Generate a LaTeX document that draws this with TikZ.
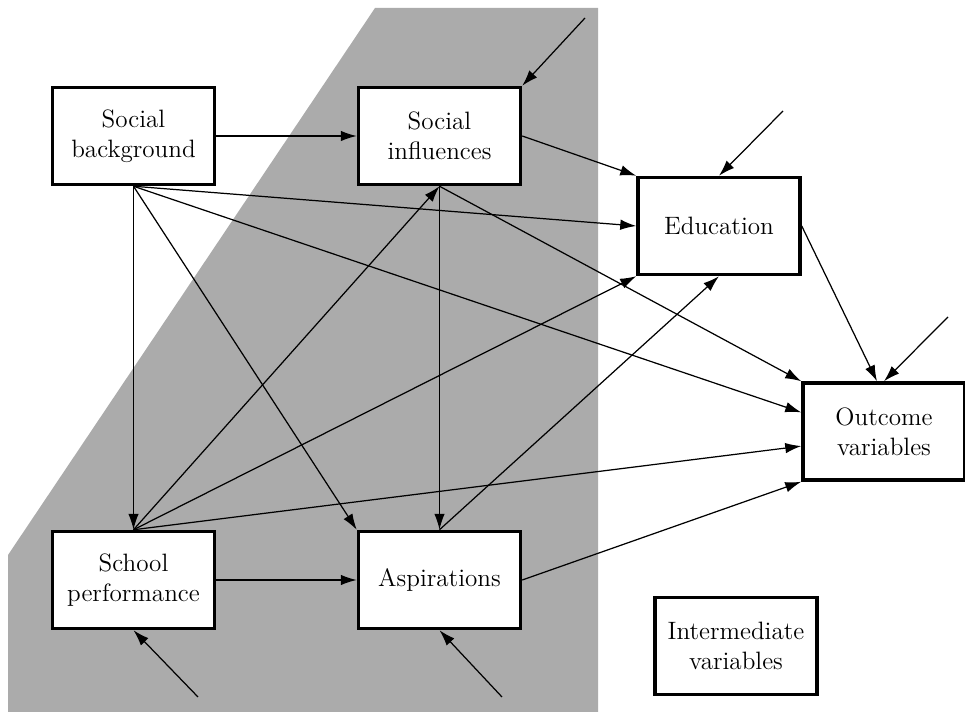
\documentclass[tikz,border=0pt]{standalone}
\usetikzlibrary{arrows.meta,calc}
\begin{document}
\begin{tikzpicture}[x=0.02cm, y=-0.02cm,
		box/.style={draw, line width=2pt, fill=white, minimum width=3.24cm, minimum height=1.94cm, align=center, font=\fontsize{14.3}{17}\selectfont},
		arr/.style={-{Latex[length=3.2mm,width=2.1mm]}, line width=0.7pt}]
	\useasboundingbox (0,0) rectangle (965,712);
	% shaded zone
	\fill[black!33] (375,8) -- (598,8) -- (598,712) -- (8,712) -- (8,555) -- cycle;
	% variables
	\node[box] (SB) at (133.5,136) {Social\\background};
	\node[box] (SI) at (439.5,136) {Social\\influences};
	\node[box] (SP) at (133.5,580) {School\\performance};
	\node[box] (Asp) at (439.5,580) {Aspirations};
	\node[box] (Ed) at (719,226) {Education};
	\node[box] (Out) at (884,431.5) {Outcome\\variables};
	\node[box] (Inter) at (736,646) {Intermediate\\variables};
	% free ends of the error terms
	\coordinate (eSI) at (585,18);
	\coordinate (eEd) at (783,111);
	\coordinate (eOut) at (948,317);
	\coordinate (eSP) at (198,697);
	\coordinate (eAsp) at (502,697);
	% paths
	\draw[arr] (SB.east) -- (SI.west);
	\draw[arr] (SB.south) -- (SP.north);
	\draw[arr] (SB.south) -- (Asp.north west);
	\draw[arr] (SB.south) -- (Ed.west);
	\draw[arr] (SB.south) -- (Out.167);
	\draw[arr] (SI.east) -- (Ed.north west);
	\draw[arr] (SI.south) -- (Asp.north);
	\draw[arr] (SI.south) -- (Out.north west);
	\draw[arr] (SP.north) -- (SI.south);
	\draw[arr] (SP.north) -- (Ed.south west);
	\draw[arr] (SP.north) -- (Out.190);
	\draw[arr] (SP.east) -- (Asp.west);
	\draw[arr] (Asp.north) -- (Ed.south);
	\draw[arr] (Asp.east) -- (Out.south west);
	\draw[arr] (Ed.east) -- ($(Out.north)+(-7,0)$);
	% error terms
	\draw[arr] (eSI) -- (SI.north east);
	\draw[arr] (eEd) -- (Ed.north);
	\draw[arr] (eOut) -- (Out.north);
	\draw[arr] (eSP) -- (SP.south);
	\draw[arr] (eAsp) -- (Asp.south);
\end{tikzpicture}
\end{document}
